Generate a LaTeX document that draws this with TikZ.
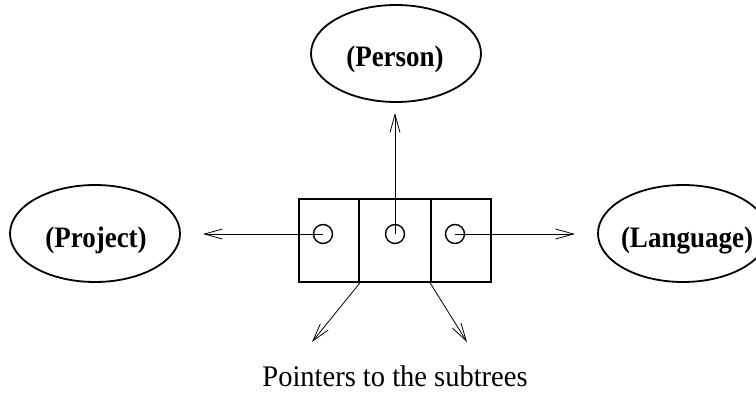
\documentclass[tikz,border=0pt]{standalone}
\usepackage{graphicx}
\usepackage{fontspec}
\setmainfont{Liberation Serif}
\usetikzlibrary{shapes.geometric,arrows.meta}
\tikzset{
  ent/.style={draw, ellipse, line width=1.8pt, minimum width=170pt, minimum height=97pt, inner sep=0pt},
  lbl/.style={anchor=base, inner sep=0pt, font=\fontsize{27}{30}\selectfont\bfseries},
  cell/.style={draw, rectangle, line width=1.8pt, minimum height=83pt, inner sep=0pt},
  hole/.style={draw, circle, line width=1.4pt, minimum size=19pt, inner sep=0pt},
  ptr/.style={line width=0.8pt, -{Straight Barb[length=18pt,width=10pt,line width=0.8pt]}},
  captext/.style={anchor=base, inner sep=0pt, font=\fontsize{28.5}{32}\selectfont}
}
\begin{document}
\begin{tikzpicture}[x=1pt,y=-1pt]
\useasboundingbox (0,0) rectangle (756,396);
% entities
\node[ent] (person) at (396,53.5) {};
\node[lbl] (personT) at (395,67) {\scalebox{1}[1.1]{(Person)}};
\node[ent] (project) at (95,233.5) {};
\node[lbl] (projectT) at (96,247) {\scalebox{1}[1.1]{(Project)}};
\node[ent] (language) at (683,233.5) {};
\node[lbl] (languageT) at (687,247) {\scalebox{1}[1.1]{(Language)}};
% record cells
\node[cell, minimum width=60pt] (c1) at (329,240.5) {};
\node[cell, minimum width=72pt] (c2) at (395,240.5) {};
\node[cell, minimum width=60pt] (c3) at (461,240.5) {};
% holes
\node[hole] (h1) at (323,234) {};
\node[hole] (h2) at (395,234) {};
\node[hole] (h3) at (455,234) {};
% arrow tips
\coordinate (tUp) at (395,113);
\coordinate (tLeft) at (203,234);
\coordinate (tRight) at (575,234);
\coordinate (tBL) at (312,342);
\coordinate (tBR) at (467,342);
% pointers
\draw[ptr] (h2.center) -- (tUp);
\draw[ptr] (h1.center) -- (tLeft);
\draw[ptr] (h3.center) -- (tRight);
\draw[ptr] (c1.south east) -- (tBL);
\draw[ptr] (c3.south west) -- (tBR);
% caption
\node[captext] (caption) at (395,386) {\scalebox{1}[1.05]{Pointers to the subtrees}};
\end{tikzpicture}
\end{document}
